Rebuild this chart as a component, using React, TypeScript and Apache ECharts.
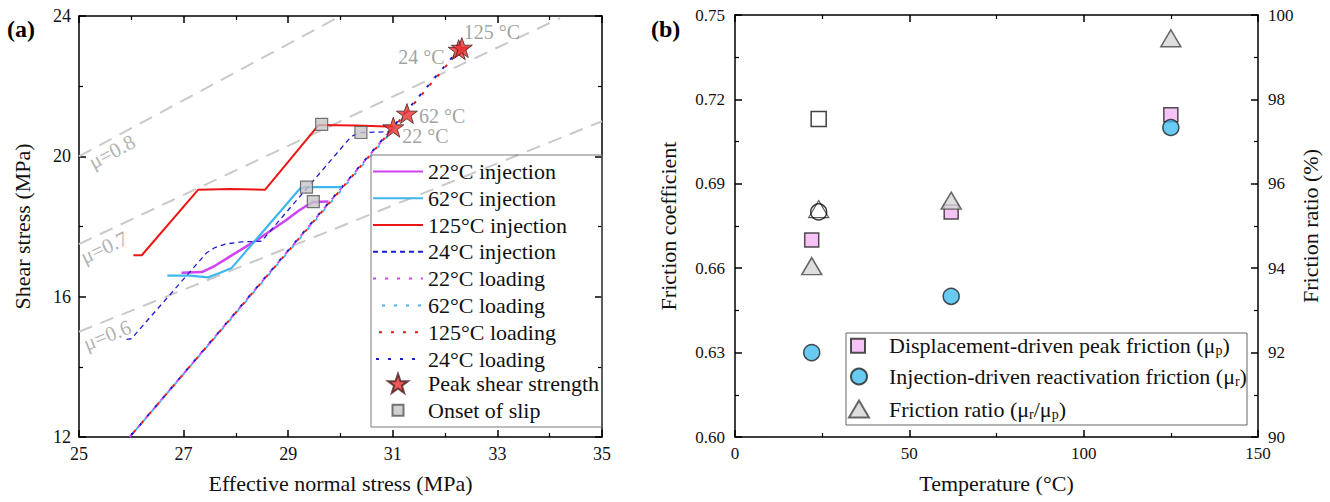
import React, { useEffect, useRef } from 'react';
import * as echarts from 'echarts';

const FONT = '"Liberation Serif", "Times New Roman", serif';

// ---------------- Panel (a) data ----------------
const muLabels = ['μ=0.6', 'μ=0.7', 'μ=0.8'];
const muLine06 = [[25, 15], [35, 21]];
const muLine07 = [[25, 17.5], [34.2, 23.94]];
const muLine08 = [[25, 20], [30, 24]];
const muLabelAnchors = [[25.54, 14.9], [25.48, 17.4], [25.63, 20.13]];
const muLabelAngles = [22, 25, 28];

const injection22 = [[26.96, 16.68], [27.35, 16.70], [27.6, 16.88], [27.89, 17.15], [28.46, 17.67], [28.97, 18.19], [29.2, 18.45], [29.35, 18.59], [29.48, 18.70], [29.77, 18.71]];
const injection62 = [[26.69, 16.60], [27.12, 16.60], [27.47, 16.55], [27.70, 16.68], [27.92, 16.82], [29.23, 19.09], [29.33, 19.12], [30.02, 19.12]];
const injection125 = [[26.04, 17.18], [26.20, 17.18], [27.28, 19.05], [27.9, 19.07], [28.56, 19.05], [29.58, 20.89], [30.3, 20.88], [31.01, 20.84]];
const injection24 = [[25.91, 14.78], [26.0, 14.80], [27.44, 17.25], [27.6, 17.4], [27.8, 17.5], [28.1, 17.56], [28.49, 17.58], [30.15, 20.47], [30.25, 20.6], [30.40, 20.68], [30.95, 20.70]];

const loading22 = [[25.97, 12], [31.01, 20.83]];
const loading62 = [[25.97, 12], [31.27, 21.22]];
const loading125 = [[25.97, 12], [32.32, 23.1]];
const loading24 = [[25.97, 12], [32.26, 23.04]];

const peakNames = ['22 °C', '62 °C', '24 °C', '125 °C'];
const peakPoints = [[31.01, 20.83], [31.27, 21.22], [32.26, 23.04], [32.32, 23.1]];
const onsetPoints = [[29.48, 18.71], [29.35, 19.12], [29.64, 20.91], [30.39, 20.68]];

// ---------------- Panel (b) data ----------------
const temperatures = [22, 62, 125];
const peakFriction = [0.670, 0.680, 0.7145];
const reactivationFriction = [0.630, 0.650, 0.710];
const frictionRatio = [94.05, 95.6, 99.45];
const refTemperature = [24];
const refPeakFriction = [0.713];
const refReactivationFriction = [0.680];
const refFrictionRatio = [95.4];

// ---------------- styling ----------------
const C_MAG = '#d042f2';
const C_CYAN = '#3fb6ee';
const C_RED = '#ee1515';
const C_BLUE = '#1d1dd0';
const STAR = 'path://M50,0 L61.8,34.5 L97.6,34.5 L68.5,55.9 L79.4,90.5 L50,69.1 L20.6,90.5 L31.5,55.9 L2.4,34.5 L38.2,34.5 Z';

const peakLabelPlacement = [
  { position: 'right', offset: [-7, 9] },
  { position: 'right', offset: [-4, 2] },
  { position: 'left', offset: [2, 7] },
  { position: 'right', offset: [-14, -16] },
];

const N_P = 'Displacement-driven peak friction (μp)';
const N_R = 'Injection-driven reactivation friction (μr)';
const N_RATIO = 'Friction ratio (μr/μp)';
const legendRich: Record<string, string> = {
  [N_P]: '{a|Displacement-driven peak friction (μ}{s|p}{a|)}',
  [N_R]: '{a|Injection-driven reactivation friction (μ}{s|r}{a|)}',
  [N_RATIO]: '{a|Friction ratio (μ}{s|r}{a|/μ}{s|p}{a|)}',
};

function axisBase(labelSize: number) {
  return {
    type: 'value',
    axisLine: { show: true, onZero: false, lineStyle: { color: '#000', width: 1.5 } },
    axisTick: { show: true, inside: true, length: 7, lineStyle: { color: '#000', width: 1.5 } },
    minorTick: { show: true, splitNumber: 2, length: 4, lineStyle: { color: '#000', width: 1.2 } },
    splitLine: { show: false },
    minorSplitLine: { show: false },
    axisLabel: { fontFamily: FONT, fontSize: labelSize, color: '#111', margin: 8, showMinLabel: true, showMaxLabel: true },
    nameTextStyle: { fontFamily: FONT, fontSize: 22, color: '#111' },
  };
}
function mirror(base: any) {
  return { ...base, axisLabel: { show: false }, name: '' };
}

function lineS(name: string, data: number[][], color: string, width: number, type: any, offset: number, z: number) {
  return {
    type: 'line', name, data, xAxisIndex: 0, yAxisIndex: 0, symbol: 'none',
    lineStyle: { color, width, type, dashOffset: offset }, itemStyle: { color }, z, silent: true,
  };
}

// single-item legend with a square icon box, centred icon and text starting at textLeft
function iconLegend(name: string, cx: number, cy: number, iw: number, ih: number, textLeft: number,
  fontSize: number, lineHeight: number, text: string, subSize: number) {
  const sp = Math.max(0, textLeft - (cx + iw / 2 + 5));
  return {
    data: [name], orient: 'vertical', left: cx - iw / 2, top: cy - lineHeight / 2, padding: 0,
    itemWidth: iw, itemHeight: ih, itemGap: 0, selectedMode: false,
    formatter: () => '{sp|}' + text,
    textStyle: {
      fontFamily: FONT, fontSize, color: '#111',
      rich: {
        sp: { width: sp, lineHeight, fontSize },
        a: { fontFamily: FONT, fontSize, lineHeight, color: '#111', verticalAlign: 'middle' },
        s: { fontFamily: FONT, fontSize: subSize, lineHeight: subSize, color: '#111', verticalAlign: 'bottom' },
      },
    },
  };
}

function buildOption() {
  const xa = { ...axisBase(18), min: 25, max: 35, interval: 2 };
  const ya = { ...axisBase(18), min: 12, max: 24, interval: 4 };
  const xb = { ...axisBase(17), min: 0, max: 150, interval: 50 };
  const yb = { ...axisBase(17), min: 0.6, max: 0.75, interval: 0.03 };
  const yr = { ...axisBase(17), min: 90, max: 100, interval: 2 };

  const muLineSeries = [muLine06, muLine07, muLine08].map((d, i) => ({
    type: 'line', name: 'mu' + i, data: d, xAxisIndex: 0, yAxisIndex: 0, symbol: 'none', silent: true,
    lineStyle: { color: '#c9c9c9', width: 2, type: [14, 9] }, z: 1,
  }));

  const muLabelSeries = {
    type: 'scatter', name: 'muLabels', xAxisIndex: 0, yAxisIndex: 0, symbolSize: 0, silent: true, z: 2,
    data: muLabelAnchors.map((p, i) => ({
      value: p, name: muLabels[i],
      label: { show: true, position: 'inside', rotate: muLabelAngles[i], formatter: '{b}', fontFamily: FONT, fontSize: 21, color: '#9d9d9d' },
    })),
  };

  const LH_A = 26.8;
  return {
    animation: false,
    title: [
      { text: '(a)', left: 2, top: 12, textStyle: { fontFamily: FONT, fontWeight: 'bold', fontSize: 24, color: '#000' } },
      { text: '(b)', left: 646, top: 12, textStyle: { fontFamily: FONT, fontWeight: 'bold', fontSize: 24, color: '#000' } },
    ],
    grid: [
      { left: 79, top: 16, width: 523, height: 421 },
      { left: 735, top: 15, width: 523, height: 422 },
    ],
    xAxis: [
      { ...xa, gridIndex: 0, position: 'bottom', name: 'Effective normal stress (MPa)', nameLocation: 'middle', nameGap: 35 },
      { ...mirror(xa), gridIndex: 0, position: 'top' },
      { ...xb, gridIndex: 1, position: 'bottom', name: 'Temperature (°C)', nameLocation: 'middle', nameGap: 35 },
      { ...mirror(xb), gridIndex: 1, position: 'top' },
    ],
    yAxis: [
      { ...ya, gridIndex: 0, position: 'left', name: 'Shear stress (MPa)', nameLocation: 'middle', nameGap: 46 },
      { ...mirror(ya), gridIndex: 0, position: 'right' },
      { ...yb, gridIndex: 1, position: 'left', name: 'Friction coefficient', nameLocation: 'middle', nameGap: 56,
        axisLabel: { ...yb.axisLabel, margin: 10, formatter: (v: number) => v.toFixed(2) } },
      { ...yr, gridIndex: 1, position: 'right', name: 'Friction ratio (%)', nameLocation: 'middle', nameGap: 41, nameRotate: 90,
        axisLabel: { ...yr.axisLabel, margin: 10 } },
    ],
    legend: [
      {
        data: ['22°C injection', '62°C injection', '125°C injection', '24°C injection', '22°C loading', '62°C loading', '125°C loading', '24°C loading'],
        orient: 'vertical', left: 372, top: 158, padding: 0, itemWidth: 50, itemHeight: 14, itemGap: 0, selectedMode: false,
        itemStyle: { color: 'rgba(0,0,0,0)', borderColor: 'rgba(0,0,0,0)', borderWidth: 0 },
        textStyle: { fontFamily: FONT, fontSize: 22, lineHeight: LH_A, color: '#111' },
      },
      iconLegend('Peak shear strength', 397, 158 + 8 * LH_A + LH_A / 2, 20, 20, 427, 22, LH_A, '{a|Peak shear strength}', 14),
      iconLegend('Onset of slip', 397, 158 + 9 * LH_A + LH_A / 2, 11, 11, 427, 22, LH_A, '{a|Onset of slip}', 14),
      iconLegend(N_P, 857, 346.7, 14, 14, 888, 22, 24, legendRich[N_P], 14),
      iconLegend(N_R, 858, 377.5, 16, 16, 888, 22, 24, legendRich[N_R], 14),
      iconLegend(N_RATIO, 858, 410, 20, 17, 888, 22, 24, legendRich[N_RATIO], 14),
    ],
    graphic: [
      { type: 'rect', shape: { x: 371, y: 155, width: 231, height: 272 }, style: { fill: 'none', stroke: '#7a7a7a', lineWidth: 1 }, silent: true, z: 100 },
      { type: 'rect', shape: { x: 846, y: 333, width: 401, height: 92 }, style: { fill: 'none', stroke: '#666', lineWidth: 1 }, silent: true, z: 100 },
    ],
    series: [
      ...muLineSeries,
      muLabelSeries,
      lineS('22°C loading', loading22, C_MAG, 2, [3, 9], 0, 3),
      lineS('62°C loading', loading62, C_CYAN, 2, [3, 9], 3, 3),
      lineS('125°C loading', loading125, C_RED, 2, [3, 9], 6, 3),
      lineS('24°C loading', loading24, C_BLUE, 2, [3, 9], 9, 3),
      lineS('22°C injection', injection22, C_MAG, 2.5, 'solid', 0, 4),
      lineS('62°C injection', injection62, C_CYAN, 2.2, 'solid', 0, 4),
      lineS('125°C injection', injection125, C_RED, 2, 'solid', 0, 4),
      lineS('24°C injection', injection24, C_BLUE, 1.3, [5, 4], 0, 4),
      {
        type: 'scatter', name: 'Onset of slip', xAxisIndex: 0, yAxisIndex: 0, symbol: 'rect', symbolSize: 12, z: 6, silent: true,
        itemStyle: { color: '#c6c6c6', borderColor: '#555', borderWidth: 1.2 },
        data: onsetPoints,
      },
      {
        type: 'scatter', name: 'Peak shear strength', xAxisIndex: 0, yAxisIndex: 0, symbol: STAR, symbolKeepAspect: true, symbolSize: 21, z: 7, silent: true,
        itemStyle: { color: '#ee3030', borderColor: '#4a2020', borderWidth: 1 },
        data: peakPoints.map((p, i) => ({
          value: p, name: peakNames[i],
          label: { show: true, formatter: '{b}', fontFamily: FONT, fontSize: 20, color: '#8a8a8a', ...peakLabelPlacement[i] },
        })),
      },
      // Panel (b)
      {
        type: 'scatter', name: N_P, xAxisIndex: 2, yAxisIndex: 2, symbol: 'rect', symbolSize: 14, z: 3, silent: true,
        itemStyle: { color: '#f3b4f3', borderColor: '#222', borderWidth: 1.5 },
        data: temperatures.map((t, i) => [t, peakFriction[i]]),
      },
      {
        type: 'scatter', name: N_R, xAxisIndex: 2, yAxisIndex: 2, symbol: 'circle', symbolSize: 16, z: 4, silent: true,
        itemStyle: { color: '#43bdf0', borderColor: '#222', borderWidth: 1.5 },
        data: temperatures.map((t, i) => [t, reactivationFriction[i]]),
      },
      {
        type: 'scatter', name: N_RATIO, xAxisIndex: 2, yAxisIndex: 3, symbol: 'triangle', symbolSize: [20, 17], z: 3, silent: true,
        itemStyle: { color: '#d6d6d6', borderColor: '#444', borderWidth: 1.5 },
        data: temperatures.map((t, i) => [t, frictionRatio[i]]),
      },
      {
        type: 'scatter', name: 'ref24 peak', xAxisIndex: 2, yAxisIndex: 2, symbol: 'rect', symbolSize: 15, z: 3, silent: true,
        itemStyle: { color: '#fff', borderColor: '#111', borderWidth: 1.5 },
        data: refTemperature.map((t, i) => [t, refPeakFriction[i]]),
      },
      {
        type: 'scatter', name: 'ref24 reactivation', xAxisIndex: 2, yAxisIndex: 2, symbol: 'circle', symbolSize: 16, z: 4, silent: true,
        itemStyle: { color: 'transparent', borderColor: '#111', borderWidth: 1.5 },
        data: refTemperature.map((t, i) => [t, refReactivationFriction[i]]),
      },
      {
        type: 'scatter', name: 'ref24 ratio', xAxisIndex: 2, yAxisIndex: 3, symbol: 'triangle', symbolSize: [20, 17], z: 3, silent: true,
        itemStyle: { color: 'transparent', borderColor: '#333', borderWidth: 1.2 },
        data: refTemperature.map((t, i) => [t, refFrictionRatio[i]]),
      },
    ],
  };
}

export default function App() {
  const ref = useRef<HTMLDivElement>(null);
  useEffect(() => {
    document.body.style.margin = '0';
    const chart = echarts.init(ref.current!, null, { renderer: 'svg' });
    chart.setOption(buildOption() as any);
    return () => chart.dispose();
  }, []);
  return <div ref={ref} style={{ width: 1330, height: 502 }} />;
}
